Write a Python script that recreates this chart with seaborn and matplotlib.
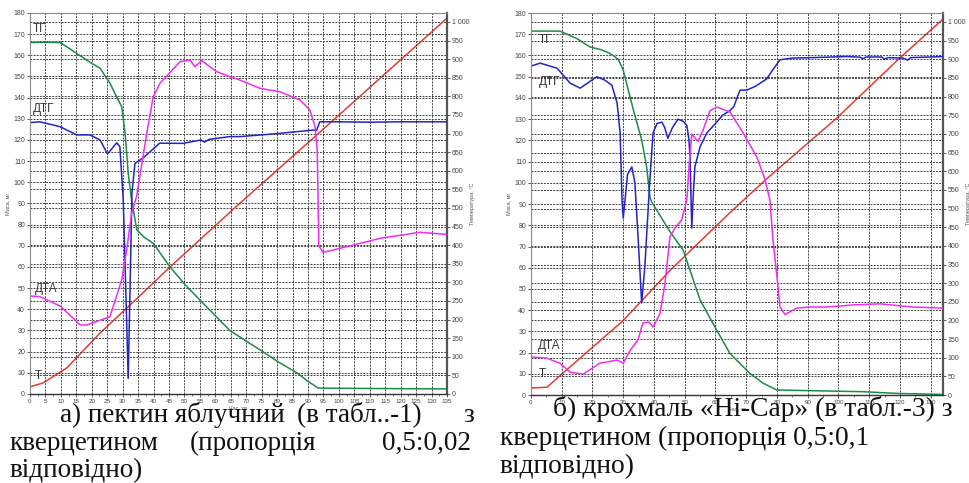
import numpy as np
import pandas as pd
import seaborn as sns
import matplotlib.pyplot as plt
from matplotlib.ticker import MultipleLocator, FuncFormatter

# ---- panel a: пектин яблучний ----
# ТГ (mass, mg)
tg_a_x = [0, 5, 9.7, 12.5, 15.1, 20, 22.7, 25.9, 27.5, 29.7, 30.8, 31.8, 32.9, 34.6, 37, 39.9,
          45.3, 50, 55, 60, 64.7, 70, 75.4, 80, 86.4, 90, 93.3, 100, 110, 120, 135]
tg_a_y = [166, 166.2, 166, 163.5, 160.9, 156.2, 153.9, 146.8, 142, 135.7, 123.2, 104.3, 91.6, 77.5, 74, 71.2,
          60.1, 52, 44.4, 37, 30, 25, 20, 15.5, 10, 6, 2.8, 2.7, 2.6, 2.5, 2.4]
# ДТГ
dtg_a_x = [0, 3.2, 9.7, 15.1, 19.4, 22.7, 25.1, 28.1, 29.1, 30.2, 31.0, 31.8, 32.4, 33.0, 34, 36.6,
           42, 49.6, 55.3, 56.5, 58, 64.7, 68, 80, 91.7, 92.8, 93.8, 100, 110, 120, 135]
dtg_a_y = [128.2, 128.6, 126.3, 122.4, 122.4, 120, 113.4, 118.7, 116.8, 91.6, 50, 7.4, 50, 95, 109, 111.5,
           118.5, 118.4, 120, 119, 120.3, 121.6, 121.6, 123, 124.7, 124.5, 128.6, 128.6, 128.4, 128.6, 128.6]
# ДТА
dta_a_x = [0, 3.2, 9.7, 12.9, 16.2, 18.4, 25.9, 29.7, 31.3, 32.9, 34.5, 37.8, 39.9, 42.1, 48.6, 51.8,
           53.4, 55.6, 60.4, 64.7, 68, 74.5, 80.9, 87.4, 90.6, 92.3, 93, 93.5, 94.9, 102.5, 113.3, 126.2, 134.9]
dta_a_y = [46.3, 46, 41.6, 37.3, 32.6, 32.6, 36.5, 53.9, 68, 85.4, 93.2, 123.2, 140.4, 146.8, 157, 157.8,
           154.6, 157.5, 152.3, 149.9, 148.3, 144.4, 142.8, 138.9, 134.2, 126.3, 115, 70, 66.9, 69.6, 73.5, 76.4, 75.4]
# Т (temperature, °C)
t_a_x = [0, 4.3, 11.9, 22.7, 33.4, 45.3, 68, 93.9, 135]
t_a_y = [19, 30, 70, 164, 247, 341, 513, 704, 1010]

# ---- panel b: крохмаль «Hi-Cap» ----
tg_b_x = [0, 9.4, 14.9, 19.2, 22.4, 25.7, 28.4, 30, 33.3, 36, 37.6, 38.7, 39.2, 45.2, 49.5, 51.7,
          55, 60.4, 64.7, 71.2, 75.5, 79.9, 108, 118.9, 134]
tg_b_y = [171.5, 171.5, 168, 164, 162.9, 161, 158.2, 153.1, 134.3, 120.2, 107.6, 93.4, 91.1, 77, 68.3, 58.9,
          44.8, 30.6, 19.6, 10.2, 5.6, 2.4, 1.6, 0.8, 0.3]
dtg_b_x = [0, 3, 8.5, 12.7, 16, 21.4, 24, 26.3, 28, 29, 29.6, 30, 30.6, 31.4, 32.8, 33.8, 34.8, 36, 37,
           38.6, 39.7, 41, 42.6, 43.5, 44.5, 46, 47.8, 49.5, 50.7, 51.4, 51.7, 52.3, 52.8, 53.3, 55, 57.2,
           60, 62.4, 64.7, 66, 67, 68, 70.2, 73, 76.7, 78.5, 81, 85, 91.7, 102.7, 107, 108, 109, 114, 115,
           116, 121, 122.5, 123.5, 134]
dtg_b_y = [155, 156.4, 154, 147, 144.6, 150, 148.4, 146, 137.6, 123.5, 92, 83.4, 92, 104, 107.5, 100, 75,
           43.4, 60, 100, 123.5, 128, 128.6, 126, 121, 126, 130, 129, 127, 120, 112, 78.7, 95, 107.5, 117,
           123.5, 128, 132, 134, 136, 140, 143.7, 143.7, 145.5, 149, 153, 158, 158.8, 159, 159.5, 159.2,
           158.5, 159.3, 159.3, 158.2, 159, 158.8, 157.8, 159, 159.5]
dta_b_x = [0, 5.2, 9.4, 12.7, 17, 22.4, 28, 30, 32.2, 34.8, 36.4, 38.4, 39.7, 42, 43.6, 45.2, 46.8, 49,
           50.7, 51.5, 52.3, 54.3, 56, 58.2, 60.5, 64.7, 69, 73.5, 76, 77.7, 78.7, 80, 81, 82.6, 86.5,
           90.7, 96, 105, 113.5, 124, 134]
dta_b_y = [18, 17.4, 15, 10.8, 9.9, 15, 16.5, 15, 21, 26, 34, 34.4, 32, 38.6, 52.8, 74.5, 78.7, 82.5,
           92, 110, 123, 119.5, 125, 134, 135.7, 133.4, 123.5, 112, 102, 92, 73, 55.6, 41.5, 38, 41,
           41.5, 41.5, 42.5, 43, 41.5, 41]
t_b_x = [0, 5.2, 10.4, 30, 45.2, 64.7, 76.7, 99.5, 120, 134]
t_b_y = [19, 21, 59, 200, 334, 489, 580, 743, 904, 1008]

curve_names = ["ТГ", "ДТГ", "ДТА", "Т"]
colors = {"ТГ": "#1e8a4a", "ДТГ": "#2323c8", "ДТА": "#f22cf2", "Т": "#e83a2e"}

sns.set_theme(style="white")
plt.rcParams['font.family'] = ['Liberation Sans', 'DejaVu Sans']

fig = plt.figure(figsize=(9.7, 4.83), dpi=100)
ax_a = fig.add_axes([0.0309, 0.1843, 0.4299, 0.7888])
ax_b = fig.add_axes([0.5474, 0.182, 0.4248, 0.791])


def draw_panel(ax, x_max, x_step, mass_curves, temp, label_pos):
    ax2 = ax.twinx()
    ax.set_zorder(ax2.get_zorder() + 1)
    ax.patch.set_visible(False)

    for name, (xs, ys) in mass_curves.items():
        sns.lineplot(x=xs, y=ys, ax=ax, color=colors[name], linewidth=1.1, estimator=None)
    sns.lineplot(x=temp[0], y=temp[1], ax=ax2, color=colors["Т"], linewidth=1.1, estimator=None)

    ax.set_xlim(0, x_max)
    ax.set_ylim(0, 180)
    ax2.set_ylim(0, 1024)
    ax.xaxis.set_major_locator(MultipleLocator(x_step))
    ax.xaxis.set_minor_locator(MultipleLocator(x_step / 2))
    ax.yaxis.set_major_locator(MultipleLocator(10))
    ax2.yaxis.set_major_locator(MultipleLocator(50))
    ax2.yaxis.set_major_formatter(FuncFormatter(lambda v, p: f"{int(v):,}".replace(",", " ")))

    grid_kw = dict(color="#444444", linewidth=0.7, linestyle=(0, (2, 1.2)))
    ax.grid(True, axis="both", **grid_kw)
    ax2.grid(True, axis="y", **grid_kw)
    ax.set_axisbelow(True)

    for a in (ax, ax2):
        a.tick_params(axis="both", which="major", labelsize=5, length=2, width=0.6,
                      colors="#444444", pad=1.5)
        a.tick_params(axis="x", which="minor", length=1.5, width=0.5, colors="#444444")
    ax.tick_params(axis="y", left=True)
    ax.tick_params(axis="x", bottom=True, which="both", labelsize=4.5)
    ax2.tick_params(axis="y", right=True)

    for s in ("top", "left"):
        ax.spines[s].set_color("#8a8a8a")
        ax.spines[s].set_linewidth(0.8)
    ax.spines["bottom"].set_color("#333333")
    ax.spines["bottom"].set_linewidth(1.0)
    ax2.spines["right"].set_color("#555555")
    ax2.spines["right"].set_linewidth(1.6)
    for s in ("top", "left", "bottom"):
        ax2.spines[s].set_visible(False)
    ax.spines["right"].set_visible(False)

    ax.set_ylabel("Маса, мг", fontsize=4, color="#555555", labelpad=2)
    ax2.set_ylabel("Температура, °С", fontsize=4, color="#555555", labelpad=0.5)
    ax.set_xlabel("Час, хв", fontsize=4, color="#555555", labelpad=1)

    for name in curve_names:
        x, y = label_pos[name]
        ax.text(x, y, name, fontsize=8.5, color="#333333", va="baseline", ha="left", zorder=5)


draw_panel(ax_a, 135, 5,
           {"ТГ": (tg_a_x, tg_a_y), "ДТГ": (dtg_a_x, dtg_a_y), "ДТА": (dta_a_x, dta_a_y)},
           (t_a_x, t_a_y),
           {"ТГ": (1, 171), "ДТГ": (1, 133.4), "ДТА": (1.5, 48.3), "Т": (1.5, 7)})
draw_panel(ax_b, 134, 10,
           {"ТГ": (tg_b_x, tg_b_y), "ДТГ": (dtg_b_x, dtg_b_y), "ДТА": (dta_b_x, dta_b_y)},
           (t_b_x, t_b_y),
           {"ТГ": (2.6, 165.7), "ДТГ": (2.6, 146), "ДТА": (2.3, 21.7), "Т": (2.6, 8.6)})

# captions under the charts (justified lines split into pieces)
W, H = 970.0, 483.0
caption_a = [
    (60, 421.5, "а) пектин яблучний", "left"), (297, 421.5, "(в табл..-1)", "left"),
    (474, 421.5, "з", "right"),
    (10, 450, "кверцетином", "left"), (190, 450, "(пропорція", "left"),
    (471, 450, "0,5:0,02", "right"),
    (10, 477, "відповідно)", "left"),
]
caption_b = [
    (553, 416.5, "б) крохмаль «Hi-Cap» (в табл.-3) з", "left"),
    (500, 445, "кверцетином (пропорція 0,5:0,1", "left"),
    (500, 473, "відповідно)", "left"),
]
for px, py, s, ha in caption_a:
    fig.text(px / W, 1 - py / H, s, family=["Liberation Serif", "DejaVu Serif"], fontsize=19.5,
             color="#111111", va="baseline", ha=ha)
for px, py, s, ha in caption_b:
    fig.text(px / W, 1 - py / H, s, family=["Liberation Serif", "DejaVu Serif"], fontsize=19.8,
             color="#111111", va="baseline", ha=ha)

fig.savefig("out.png", dpi=100)
